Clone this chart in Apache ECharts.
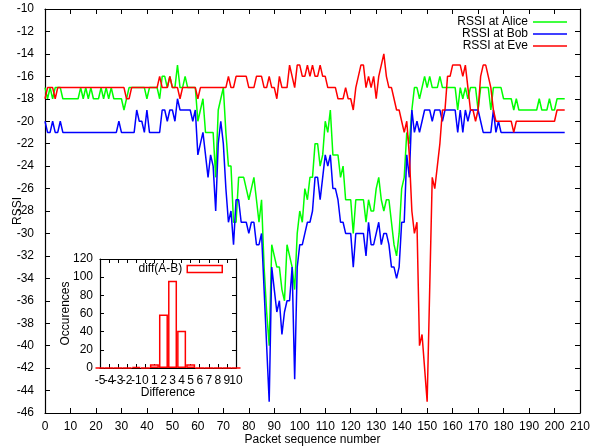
<!DOCTYPE html>
<html>
<head>
<meta charset="utf-8">
<script src="https://cdn.jsdelivr.net/npm/echarts@6/dist/echarts.min.js"></script>
<style>
  html, body { margin: 0; padding: 0; background: #fff; }
  #chart { width: 592px; height: 448px; }
</style>
</head>
<body>
<div id="chart"></div>
<script>
// RSSI per packet (index = packet sequence number)
const rssiAlice = [
  -17,-18,-17,-18,-17,-17,-17,-18,-18,-18,
  -18,-18,-18,-18,-17,-18,-17,-18,-17,-18,
  -18,-18,-17,-18,-17,-18,-17,-18,-18,-18,
  -18,-19,-18,-17,-17,-17,-17,-17,-17,-17,
  -18,-17,-17,-17,-17,-18,-16,-16,-17,-16,
  -17,-17,-15,-17,-17,-16,-17,-17,-17,-17,
  -20,-19,-18,-21,-21,-21,-21,-25,-19,-18,
  -17,-21,-24,-24,-29,-29,-25,-25,-25,-26,
  -27,-26,-25,-27,-29,-27,-33,-37,-40,-31,
  -32,-33,-33,-35,-36,-31,-32,-33,-35,-30,
  -28,-29,-26,-27,-25,-25,-22,-22,-24,-23,
  -20,-21,-19,-23,-23,-23,-25,-24,-27,-27,
  -27,-30,-27,-27,-27,-27,-29,-27,-28,-28,
  -26,-25,-27,-28,-27,-27,-29,-31,-32,-30,
  -26,-25,-21,-22,-19,-17,-17,-18,-17,-16,
  -17,-16,-17,-17,-17,-16,-17,-17,-17,-17,
  -17,-17,-19,-17,-18,-17,-18,-17,-17,-17,
  -19,-17,-17,-17,-17,-19,-17,-17,-17,-17,
  -18,-18,-18,-18,-19,-18,-19,-19,-19,-19,
  -19,-19,-19,-19,-18,-19,-19,-19,-18,-19,
  -19,-18,-18,-18,-18
];
const rssiBob = [
  -20,-21,-21,-20,-21,-21,-20,-21,-21,-21,
  -21,-21,-21,-21,-21,-21,-21,-21,-21,-21,
  -21,-21,-21,-21,-21,-21,-21,-21,-21,-20,
  -21,-21,-21,-21,-21,-21,-19,-20,-20,-21,
  -19,-21,-21,-21,-21,-21,-19,-19,-20,-19,
  -19,-20,-18,-19,-19,-19,-19,-19,-20,-19,
  -23,-22,-21,-23,-25,-23,-24,-28,-22,-20,
  -22,-26,-29,-28,-31,-27,-27,-29,-29,-29,
  -30,-29,-29,-31,-31,-30,-35,-40,-45,-33,
  -35,-37,-36,-39,-37,-36,-36,-33,-43,-33,
  -31,-31,-30,-29,-29,-28,-25,-25,-27,-25,
  -23,-24,-23,-26,-26,-27,-29,-29,-30,-30,
  -30,-33,-30,-30,-30,-30,-32,-29,-31,-31,
  -30,-29,-31,-30,-30,-31,-33,-33,-34,-33,
  -29,-29,-23,-25,-19,-21,-20,-21,-20,-19,
  -19,-19,-20,-19,-19,-19,-20,-19,-19,-19,
  -19,-19,-21,-19,-21,-19,-20,-19,-19,-19,
  -19,-20,-21,-21,-21,-21,-19,-21,-20,-21,
  -21,-21,-21,-21,-21,-21,-21,-21,-21,-21,
  -21,-21,-21,-21,-21,-21,-21,-21,-21,-21,
  -21,-21,-21,-21,-21
];
const rssiEve = [
  -18,-17,-17,-17,-18,-17,-17,-17,-17,-17,
  -17,-17,-17,-17,-17,-17,-17,-17,-17,-17,
  -17,-17,-17,-17,-17,-17,-17,-17,-17,-17,
  -17,-17,-18,-18,-17,-17,-17,-17,-17,-17,
  -17,-17,-17,-17,-17,-16,-17,-17,-17,-16,
  -17,-17,-17,-18,-17,-17,-17,-17,-17,-17,
  -18,-17,-17,-17,-17,-17,-17,-17,-17,-17,
  -17,-17,-16,-17,-17,-16,-16,-16,-16,-16,
  -17,-17,-17,-16,-16,-16,-17,-17,-16,-17,
  -17,-18,-16,-17,-17,-17,-15,-16,-17,-15,
  -15,-16,-16,-15,-16,-15,-16,-16,-15,-16,
  -16,-17,-17,-17,-17,-18,-18,-18,-17,-18,
  -18,-19,-17,-16,-15,-15,-17,-16,-17,-16,
  -18,-16,-15,-14,-16,-17,-17,-18,-19,-19,
  -20,-21,-20,-23,-28,-30,-29,-40,-39,-42,
  -45,-35,-25,-26,-24,-22,-19,-19,-16,-16,
  -15,-15,-15,-15,-16,-15,-17,-19,-19,-20,
  -19,-16,-15,-15,-16,-17,-19,-20,-20,-20,
  -20,-20,-20,-20,-21,-20,-20,-20,-20,-20,
  -20,-20,-20,-20,-20,-20,-20,-20,-20,-20,
  -20,-19,-19,-19,-19
];

// histogram of diff(A-B)
const diffBins   = [-5,-4,-3,-2,-1, 0, 1, 2, 3, 4, 5, 6, 7, 8, 9, 10];
const diffCounts = [ 0, 0, 0, 0, 1, 0, 4,59,96,41, 4, 0, 0, 0, 0, 0];

const font = 'Liberation Sans, Arial, Helvetica, sans-serif';

function toPairs(values) {
  return values.map((v, i) => [i, v]);
}

function frameAxis(gridIndex, position, opts) {
  return Object.assign({
    gridIndex: gridIndex,
    position: position,
    type: 'value',
    splitLine: { show: false },
    axisLine: { show: true, onZero: false, lineStyle: { color: '#000', width: 1.2 } },
    axisTick: { show: true, inside: true, length: 5, lineStyle: { color: '#000', width: 1 } },
    axisLabel: { show: false }
  }, opts);
}

const labelStyle = { fontSize: 12, fontFamily: font, color: '#000' };
const insetTick = { show: true, inside: true, length: 4, lineStyle: { color: '#000' } };

// inset difference labels are packed tight, so odd and even ones go on two axes
function insetLabels(keepOdd) {
  return Object.assign({
    show: true, margin: 7, showMinLabel: true, showMaxLabel: true, hideOverlap: false,
    formatter: function (v) {
      return (Math.abs(v) % 2 === 1) === keepOdd ? String(v) : '';
    }
  }, labelStyle);
}

const chart = echarts.init(document.getElementById('chart'));

const option = {
  animation: false,
  backgroundColor: '#fff',
  textStyle: { fontFamily: font, color: '#000' },
  grid: [
    { left: 45, right: 12, top: 9, bottom: 35, outerBoundsMode: 'none' },
    {
      left: 100, top: 259, width: 136, height: 109, outerBoundsMode: 'none',
      show: true, backgroundColor: '#fff', borderWidth: 0, z: 5
    }
  ],
  legend: [
    {
      data: ['RSSI at Alice', 'RSSI at Bob', 'RSSI at Eve'],
      orient: 'vertical',
      right: 25,
      top: 16,
      padding: 0,
      align: 'right',
      icon: 'rect',
      itemWidth: 34,
      itemHeight: 1.5,
      itemGap: 0,
      selectedMode: false,
      textStyle: labelStyle
    },
    {
      data: ['diff(A-B)'],
      right: 369,
      top: 263,
      padding: 0,
      align: 'right',
      icon: 'rect',
      itemWidth: 35,
      itemHeight: 7,
      selectedMode: false,
      z: 10,
      itemStyle: { color: '#fff', borderColor: '#ff0000', borderWidth: 1.5 },
      textStyle: labelStyle
    }
  ],
  xAxis: [
    frameAxis(0, 'bottom', {
      min: 0, max: 210, interval: 10,
      name: 'Packet sequence number',
      nameLocation: 'middle',
      nameGap: 21,
      nameMoveOverlap: false,
      nameTextStyle: labelStyle,
      axisLabel: Object.assign({ show: true, margin: 8 }, labelStyle)
    }),
    frameAxis(0, 'top', { min: 0, max: 210, interval: 10 }),
    frameAxis(1, 'bottom', {
      min: -5, max: 10, interval: 1,
      name: 'Difference',
      nameLocation: 'middle',
      nameGap: 19,
      nameMoveOverlap: false,
      z: 6,
      axisTick: insetTick,
      nameTextStyle: labelStyle,
      axisLabel: insetLabels(false)
    }),
    frameAxis(1, 'bottom', {
      min: -5, max: 10, interval: 1, z: 6,
      axisLine: { show: false },
      axisTick: { show: false },
      axisLabel: insetLabels(true)
    }),
    frameAxis(1, 'top', { min: -5, max: 10, interval: 1, z: 6, axisTick: insetTick })
  ],
  yAxis: [
    frameAxis(0, 'left', {
      min: -46, max: -10, interval: 2,
      name: 'RSSI',
      nameLocation: 'middle',
      nameGap: 21,
      nameMoveOverlap: false,
      nameTextStyle: labelStyle,
      axisLabel: Object.assign({ show: true, margin: 11 }, labelStyle)
    }),
    frameAxis(0, 'right', { min: -46, max: -10, interval: 2 }),
    frameAxis(1, 'left', {
      min: 0, max: 120, interval: 20,
      name: 'Occurences',
      nameLocation: 'middle',
      nameGap: 28,
      nameMoveOverlap: false,
      z: 6,
      axisTick: insetTick,
      nameTextStyle: labelStyle,
      axisLabel: Object.assign({ show: true, margin: 7 }, labelStyle)
    }),
    frameAxis(1, 'right', { min: 0, max: 120, interval: 20, z: 6, axisTick: insetTick })
  ],
  series: [
    {
      name: 'RSSI at Alice', type: 'line', xAxisIndex: 0, yAxisIndex: 0,
      data: toPairs(rssiAlice), symbol: 'none', color: '#00ff00',
      lineStyle: { color: '#00ff00', width: 1.5 }
    },
    {
      name: 'RSSI at Bob', type: 'line', xAxisIndex: 0, yAxisIndex: 0,
      data: toPairs(rssiBob), symbol: 'none', color: '#0000ff',
      lineStyle: { color: '#0000ff', width: 1.5 }
    },
    {
      name: 'RSSI at Eve', type: 'line', xAxisIndex: 0, yAxisIndex: 0,
      data: toPairs(rssiEve), symbol: 'none', color: '#ff0000',
      lineStyle: { color: '#ff0000', width: 1.5 }
    },
    {
      name: 'diff(A-B)', type: 'bar', xAxisIndex: 2, yAxisIndex: 2,
      data: diffBins.map((b, i) => [b, diffCounts[i]]),
      barWidth: 9,
      z: 7,
      itemStyle: { color: '#fff', borderColor: '#ff0000', borderWidth: 1.5 }
    }
  ]
};

chart.setOption(option);
</script>
</body>
</html>
